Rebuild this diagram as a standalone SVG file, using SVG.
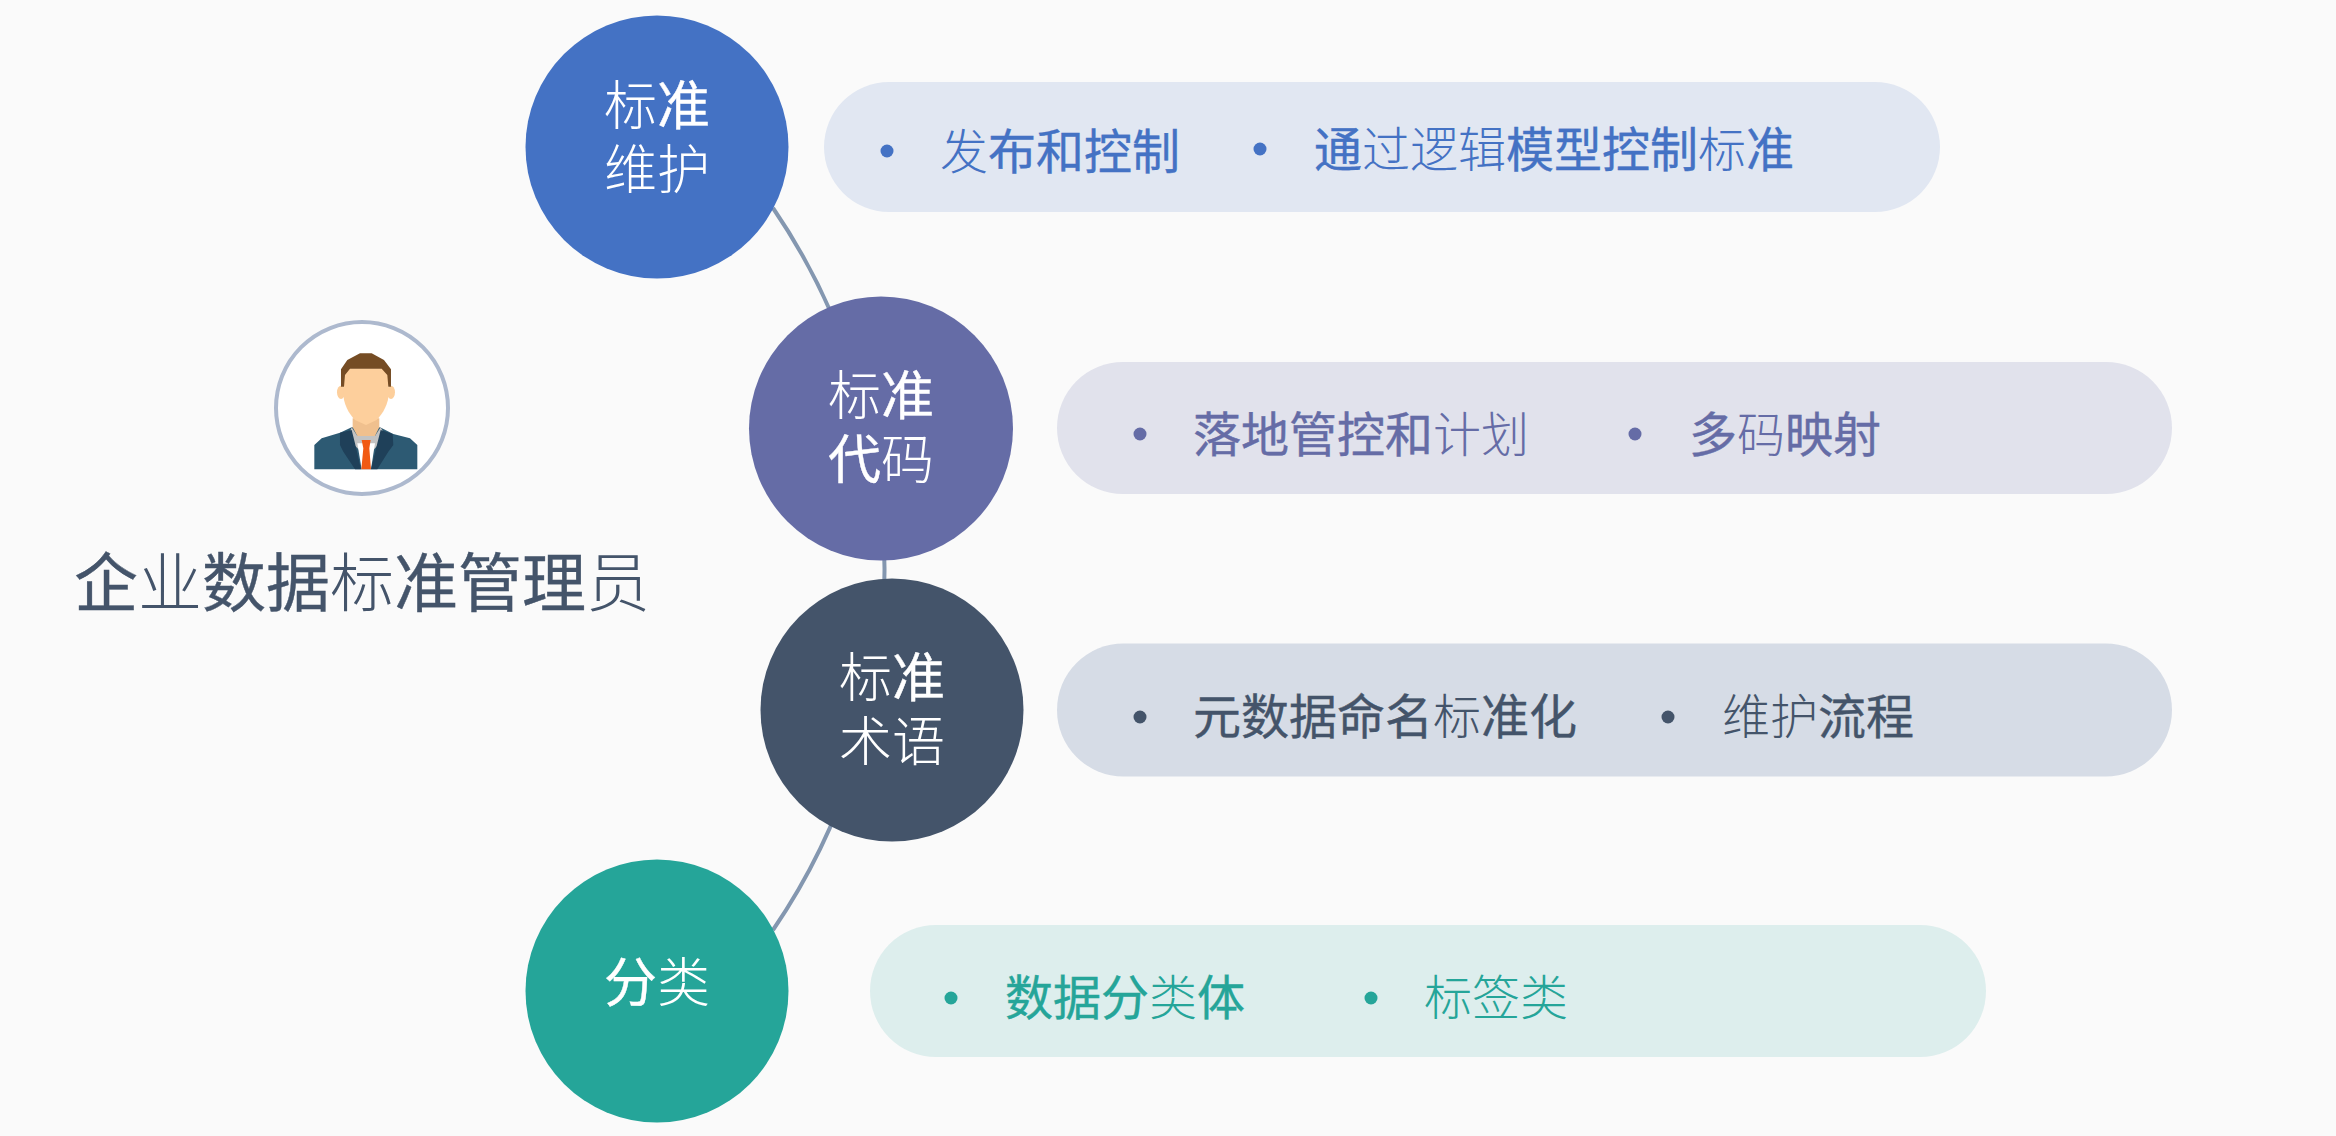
<svg xmlns="http://www.w3.org/2000/svg" width="2336" height="1136" viewBox="0 0 2336 1136">
<style>
text{font-family:"Noto Sans CJK SC","Noto Sans",sans-serif;font-weight:400;stroke-width:.4px}
.t{font-weight:300;stroke:none}
.c{font-size:53px;fill:#fff;stroke:#fff;text-anchor:middle}
.p{font-size:48px}
.title{font-size:64px;fill:#44546a;stroke:#44546a}
.blue{fill:#4472c4}.pur{fill:#656ca6}.dark{fill:#44546a}.teal{fill:#25a599}
text.blue{stroke:#4472c4}text.pur{stroke:#656ca6}text.dark{stroke:#44546a}text.teal{stroke:#25a599}
text.t{stroke:none}
</style>
<rect width="2336" height="1136" fill="#fafafa"/>
<g id="connectors"><path d="M773 208A640 640 0 0 1 773 930" fill="none" stroke="#8497b0" stroke-width="4"/></g>
<g id="role">
<circle cx="362" cy="408" r="86" fill="#fff" stroke="#adb9ce" stroke-width="4"/>
<g transform="translate(260 310) scale(.3333)">
<path d="M163 478V405L185 385 240 368 275 352H360L400 372 450 385 472 405V478Z" fill="#2d5a73"/>
<path d="M278 325H358V352L345 378H292L278 352Z" fill="#f0c08e"/>
<path d="M275 352 292 378H345L362 352 378 380 340 420H298L262 385Z" fill="#c3c3c3"/>
<path d="M292 400H345L333 478H305Z" fill="#fff"/>
<path d="M240 368 275 360 285 400 303 478H285L250 425 240 405ZM398 372 362 360 352 400 333 478H352L385 425 400 405Z" fill="#1f4059"/>
<path d="M305 390H332L328 415 333 478H304L310 415Z" fill="#f15a14"/>
<ellipse cx="243" cy="247" rx="12" ry="20" fill="#fdcf9c"/><ellipse cx="393" cy="247" rx="12" ry="20" fill="#fdcf9c"/>
<path d="M250 175H386V250C386 280 370 310 350 330L318 345 285 330C265 310 250 280 250 250Z" fill="#fdcf9c"/>
<path d="M243 230V178L262 150 300 130H335L372 150 393 178V230H385L382 195 365 176H270L255 195 252 230Z" fill="#754c24"/>
</g>
<text class="title" x="74" y="606">企<tspan class="t">业</tspan>数据<tspan class="t">标</tspan>准管理<tspan class="t">员</tspan></text>
</g>
<g id="node1">
<rect x="824" y="82" width="1116" height="130" rx="65" fill="#e1e7f2"/>
<circle cx="657" cy="147" r="131.500" fill="#4472c4"/>
<text class="c" x="657" y="125"><tspan class="t">标</tspan>准</text><text class="c t" x="657" y="189">维护</text>
<circle class="blue" cx="887" cy="151" r="6.500"/><circle class="blue" cx="1260" cy="149" r="6.500"/>
<text class="p blue" x="940" y="169"><tspan class="t">发</tspan>布和控制</text>
<text class="p blue" x="1314" y="167">通<tspan class="t">过逻辑</tspan>模型控制<tspan class="t">标</tspan>准</text>
</g>
<g id="node2">
<rect x="1057" y="362" width="1115" height="132" rx="66" fill="#e1e2ec"/>
<circle cx="881" cy="428.500" r="132" fill="#656ca6"/>
<text class="c" x="881" y="415"><tspan class="t">标</tspan>准</text><text class="c" x="881" y="479">代<tspan class="t">码</tspan></text>
<circle class="pur" cx="1140" cy="434" r="6.500"/><circle class="pur" cx="1635" cy="434" r="6.500"/>
<text class="p pur" x="1193" y="452">落地管控和<tspan class="t">计划</tspan></text>
<text class="p pur" x="1689" y="452">多<tspan class="t">码</tspan>映射</text>
</g>
<g id="node3">
<rect x="1057" y="643.500" width="1115" height="133" rx="66.500" fill="#d6dce6"/>
<circle cx="892" cy="710" r="131.500" fill="#44546a"/>
<text class="c" x="892" y="697"><tspan class="t">标</tspan>准</text><text class="c t" x="892" y="761">术语</text>
<circle class="dark" cx="1140" cy="717" r="6.500"/><circle class="dark" cx="1668" cy="717" r="6.500"/>
<text class="p dark" x="1193" y="734">元数据命名<tspan class="t">标</tspan>准化</text>
<text class="p dark" x="1722" y="734"><tspan class="t">维护</tspan>流程</text>
</g>
<g id="node4">
<rect x="870" y="925" width="1116" height="132" rx="66" fill="#ddeeed"/>
<circle cx="657" cy="991" r="131.500" fill="#25a599"/>
<text class="c" x="657" y="1002">分<tspan class="t">类</tspan></text>
<circle class="teal" cx="951" cy="998" r="6.500"/><circle class="teal" cx="1371" cy="998" r="6.500"/>
<text class="p teal" x="1005" y="1015">数据分<tspan class="t">类</tspan>体</text>
<text class="p teal t" x="1424" y="1015">标签类</text>
</g>
</svg>
